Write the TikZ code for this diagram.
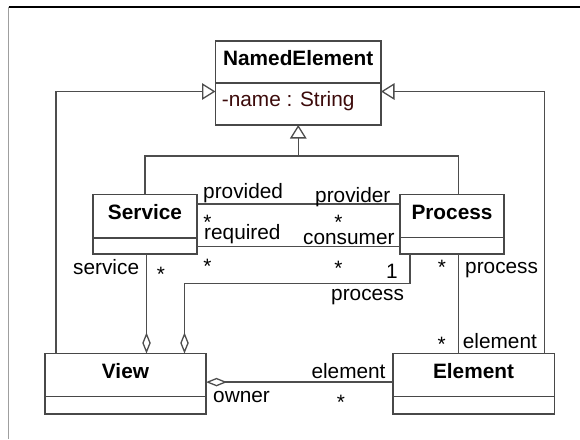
\documentclass[tikz,border=0pt]{standalone}
\usepackage{fontspec}
\setmainfont{Liberation Sans}
\usetikzlibrary{arrows.meta,calc}
\definecolor{linec}{HTML}{4D4D4D}
\definecolor{boxc}{HTML}{484848}
\definecolor{attrc}{HTML}{3C0A0A}
\newcommand\umlfont{\fontsize{20.8}{24}\selectfont}
% an asterisk whose box hugs the visible glyph
\newcommand\mult{\raisebox{-8.8pt}[6.2pt][0pt]{*}}
\begin{document}
\begin{tikzpicture}[x=1pt,y=-1pt,
  cls/.style={draw=boxc, line width=1.6pt, inner xsep=0pt, inner ysep=9.5pt,
    outer sep=0pt, text height=15pt, font=\umlfont\bfseries, anchor=north},
  comp/.style={draw=boxc, line width=1.6pt, inner sep=0pt, outer sep=0pt, anchor=north},
  conn/.style={draw=linec, line width=1.3pt},
  gen/.style={conn, -{Triangle[open, length=13.5pt, width=16.5pt]}},
  agg/.style={conn, {Diamond[open, length=21pt, width=8.5pt]}-},
  lab/.style={font=\umlfont, inner sep=0pt},
  mul/.style={font=\umlfont, inner sep=0pt, anchor=center}]
\useasboundingbox (0,0) rectangle (580,439);
% frame
\draw[black, line width=2pt] (8.5,7) -- (580,7);
\draw[gray!75, line width=1.8pt] (8.5,7) -- (8.5,439);

% classes
\node[cls, minimum width=165.5pt, text depth=7.7pt] (ne) at (298.25,41) {NamedElement};
\node[comp, minimum width=165.5pt, minimum height=42.3pt] (neA) at (ne.south) {};
\node[lab, anchor=base west, text=attrc] (neAttr) at ($(neA.north west)+(6.2,23.3)$) {-name : String};

\node[cls, minimum width=104pt, text depth=9.5pt] (svc) at (145,194.5) {Service};
\node[comp, minimum width=104pt, minimum height=16pt] (svcA) at (svc.south) {};

\node[cls, minimum width=104pt, text depth=9pt] (prc) at (452,194.5) {Process};
\node[comp, minimum width=104pt, minimum height=16.5pt] (prcA) at (prc.south) {};

\node[cls, minimum width=161pt, text depth=8.8pt] (view) at (125.5,353.5) {View};
\node[comp, minimum width=161pt, minimum height=17.4pt] (viewA) at (view.south) {};

\node[cls, minimum width=161.6pt, text depth=8.8pt] (elem) at (473.5,353.5) {Element};
\node[comp, minimum width=161.6pt, minimum height=17.4pt] (elemA) at (elem.south) {};

% attachment points
\coordinate (genL) at ($(neA.north west)+(0,8.8)$);
\coordinate (genR) at ($(neA.north east)+(0,8.8)$);
\coordinate (viewGen) at ($(view.north west)+(11,0)$);
\coordinate (elemGen) at ($(elem.north west)+(151.8,0)$);
\coordinate (svcTop) at ($(svc.north west)+(52,0)$);
\coordinate (prcTop) at ($(prc.north west)+(58.3,0)$);
\coordinate (joint) at ($(neA.south)+(0,31)$);
\coordinate (svcDown) at ($(svcA.south west)+(53.5,0)$);
\coordinate (viewSvc) at ($(view.north west)+(101.5,0)$);
\coordinate (prcDown) at ($(prcA.south west)+(10,0)$);
\coordinate (viewPrc) at ($(view.north west)+(139.5,0)$);
\coordinate (prcElem) at ($(prcA.south west)+(58.3,0)$);
\coordinate (elemPrc) at ($(elem.north west)+(65.6,0)$);

% generalizations
\draw[gen] (viewGen) |- (genL);
\draw[gen] (elemGen) |- (genR);
\draw[conn] (svcTop) |- (joint) -| (prcTop);
\draw[gen] (joint) -- (neA.south);

% associations between Service and Process
\draw[conn] ($(svc.north east)+(0,9.5)$) -- ($(prc.north west)+(0,9.5)$);
\draw[conn] ($(svcA.north east)+(0,8.7)$) -- ($(prcA.north west)+(0,9.2)$);

% aggregations into View
\draw[agg] (viewSvc) -- (svcDown);
\draw[agg] (viewPrc) |- ($(prcDown)+(0,29.3)$) -- (prcDown);
\draw[agg] ($(view.south east)+(0,-14.2)$) -- ($(elem.south west)+(0,-14.2)$);

% Process to Element
\draw[conn] (prcElem) -- (elemPrc);

% role names
\node[lab, anchor=base west] (lProvided) at (203,198) {provided};
\node[lab, anchor=base west] (lRequired) at (204,239) {required};
\node[lab, anchor=base west] (lProvider) at (315,202) {provider};
\node[lab, anchor=base west] (lConsumer) at (303,244) {consumer};
\node[lab, anchor=base east] (mOne) at (398,278) {1};
\node[lab, anchor=base west] (lProcess) at (331,300.7) {process};
\node[lab, anchor=base west] (lProcessR) at (465,273) {process};
\node[lab, anchor=base west] (lService) at (73,274) {service};
\node[lab, anchor=base west] (lElemTop) at (462.7,348.3) {element};
\node[lab, anchor=base east] (lElem) at (385.7,378.3) {element};
\node[lab, anchor=base west] (lOwner) at (213,402.7) {owner};

% multiplicities
\node[mul] (mProvided) at (207.5,218) {\mult};
\node[mul] (mRequired) at (207.5,262) {\mult};
\node[mul] (mProvider) at (338.5,218) {\mult};
\node[mul] (mConsumer) at (338.5,264) {\mult};
\node[mul] (mPrcElem) at (442,263) {\mult};
\node[mul] (mService) at (161,270) {\mult};
\node[mul] (mElemTop) at (441.7,340) {\mult};
\node[mul] (mElem) at (341,397.3) {\mult};
\end{tikzpicture}
\end{document}
